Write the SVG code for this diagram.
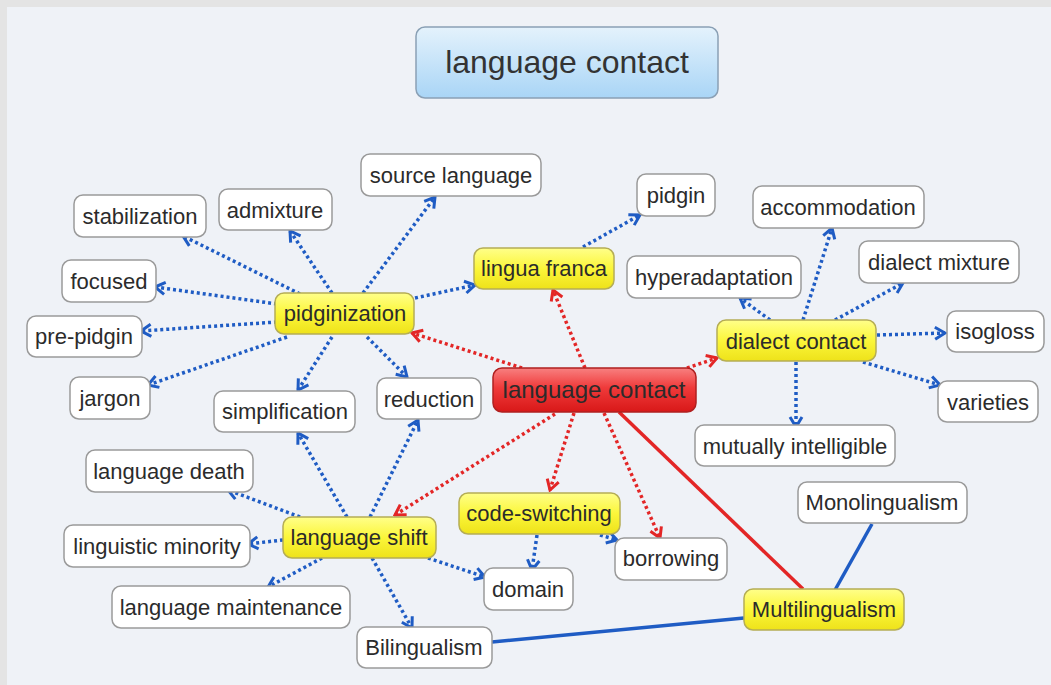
<svg xmlns="http://www.w3.org/2000/svg" width="1051" height="685" viewBox="0 0 1051 685">
<style>
.bg{fill:#e4e4e4}
.canvas{fill:#eff2f7}
.w{fill:#ffffff;stroke:#9a9a9a;stroke-width:1.5}
.y{fill:url(#gy);stroke:#b5ad55;stroke-width:1.5}
.r{fill:url(#gr);stroke:#b02020;stroke-width:1.5}
.t{fill:url(#gb);stroke:#8aa0b5;stroke-width:1.5}
text{font-family:"Liberation Sans",Arial,sans-serif;font-size:22px;fill:#2b2b2b;text-anchor:middle;dominant-baseline:central}
.big{font-size:32px;fill:#333}
.mid{font-size:24px}
.bd{fill:none;stroke:#1f5cc4;stroke-width:3.5;stroke-dasharray:3 3;marker-end:url(#ab)}
.rd{fill:none;stroke:#e32626;stroke-width:3.5;stroke-dasharray:3 3;marker-end:url(#ar)}
.bs{fill:none;stroke:#1f5cc4;stroke-width:3.5}
.rs{fill:none;stroke:#e32626;stroke-width:3.5}
</style>
<defs>
<linearGradient id="gy" x1="0" y1="0" x2="0" y2="1"><stop offset="0" stop-color="#ffff8a"/><stop offset="0.5" stop-color="#fbf63a"/><stop offset="1" stop-color="#eee21a"/></linearGradient>
<linearGradient id="gr" x1="0" y1="0" x2="0" y2="1"><stop offset="0" stop-color="#f88080"/><stop offset="0.45" stop-color="#ef3a3a"/><stop offset="1" stop-color="#d81818"/></linearGradient>
<linearGradient id="gb" x1="0" y1="0" x2="0" y2="1"><stop offset="0" stop-color="#e4f2fc"/><stop offset="1" stop-color="#a9d5f6"/></linearGradient>
<marker id="ab" viewBox="-12 -8 14 16" markerWidth="14" markerHeight="16" refX="0" refY="0" orient="auto" markerUnits="userSpaceOnUse"><path d="M-10,-6 L0,0 L-10,6" fill="none" stroke="#1f5cc4" stroke-width="3"/></marker>
<marker id="ar" viewBox="-12 -8 14 16" markerWidth="14" markerHeight="16" refX="0" refY="0" orient="auto" markerUnits="userSpaceOnUse"><path d="M-10,-6 L0,0 L-10,6" fill="none" stroke="#e32626" stroke-width="3"/></marker>
</defs>
<rect class="bg" x="0" y="0" width="1051" height="685"/>
<rect class="canvas" x="7" y="7" width="1044" height="678"/>
<g id="connectors">
<line class="bd" x1="300" y1="294" x2="183" y2="236"/>
<line class="bd" x1="332" y1="293" x2="290" y2="231"/>
<line class="bd" x1="363" y1="293" x2="435" y2="197"/>
<line class="bd" x1="277" y1="304" x2="155" y2="287"/>
<line class="bd" x1="277" y1="322" x2="141" y2="331"/>
<line class="bd" x1="287" y1="337" x2="148" y2="385"/>
<line class="bd" x1="332" y1="337" x2="298" y2="390"/>
<line class="bd" x1="367" y1="337" x2="407" y2="377"/>
<line class="bd" x1="415" y1="298" x2="475" y2="285"/>
<line class="bd" x1="583" y1="247" x2="640" y2="215"/>
<line class="bd" x1="770" y1="320" x2="740" y2="298"/>
<line class="bd" x1="803" y1="320" x2="832" y2="228"/>
<line class="bd" x1="835" y1="320" x2="903" y2="283"/>
<line class="bd" x1="877" y1="335" x2="945" y2="333"/>
<line class="bd" x1="863" y1="362" x2="940" y2="385"/>
<line class="bd" x1="796" y1="362" x2="796" y2="427"/>
<line class="bd" x1="300" y1="517" x2="228" y2="490"/>
<line class="bd" x1="283" y1="540" x2="248" y2="544"/>
<line class="bd" x1="322" y1="558" x2="268" y2="587"/>
<line class="bd" x1="347" y1="517" x2="298" y2="433"/>
<line class="bd" x1="370" y1="517" x2="418" y2="420"/>
<line class="bd" x1="372" y1="558" x2="412" y2="628"/>
<line class="bd" x1="428" y1="558" x2="485" y2="577"/>
<line class="bd" x1="537" y1="535" x2="532" y2="570"/>
<line class="bd" x1="600" y1="535" x2="617" y2="540"/>
<line class="rd" x1="522" y1="368" x2="412" y2="333"/>
<line class="rd" x1="585" y1="368" x2="553" y2="290"/>
<line class="rd" x1="687" y1="368" x2="717" y2="358"/>
<line class="rd" x1="555" y1="414" x2="395" y2="515"/>
<line class="rd" x1="574" y1="413" x2="550" y2="490"/>
<line class="rd" x1="604" y1="413" x2="660" y2="538"/>
<line class="rs" x1="619" y1="412" x2="803" y2="589"/>
<line class="bs" x1="744" y1="618" x2="492" y2="642"/>
<line class="bs" x1="835" y1="590" x2="872" y2="524"/>
</g>
<g id="title"><rect class="t" x="416" y="27" width="302" height="71" rx="9"/><text class="big" x="567" y="62">language contact</text></g>
<g id="source-language"><rect class="w" x="361" y="154" width="180" height="42" rx="9"/><text x="451" y="175">source language</text></g>
<g id="stabilization"><rect class="w" x="74" y="195" width="132" height="42" rx="9"/><text x="140" y="216">stabilization</text></g>
<g id="admixture"><rect class="w" x="219" y="189" width="113" height="41" rx="9"/><text x="275" y="210">admixture</text></g>
<g id="pidgin"><rect class="w" x="637" y="174" width="78" height="42" rx="9"/><text x="676" y="195">pidgin</text></g>
<g id="accommodation"><rect class="w" x="753" y="186" width="171" height="42" rx="9"/><text x="838" y="207">accommodation</text></g>
<g id="focused"><rect class="w" x="62" y="260" width="94" height="42" rx="9"/><text x="109" y="281">focused</text></g>
<g id="pre-pidgin"><rect class="w" x="27" y="316" width="115" height="41" rx="9"/><text x="84" y="336">pre-pidgin</text></g>
<g id="jargon"><rect class="w" x="70" y="377" width="80" height="42" rx="9"/><text x="110" y="398">jargon</text></g>
<g id="simplification"><rect class="w" x="214" y="391" width="141" height="41" rx="9"/><text x="285" y="411">simplification</text></g>
<g id="reduction"><rect class="w" x="377" y="378" width="104" height="41" rx="9"/><text x="429" y="399">reduction</text></g>
<g id="hyperadaptation"><rect class="w" x="627" y="256" width="174" height="42" rx="9"/><text x="714" y="277">hyperadaptation</text></g>
<g id="dialect-mixture"><rect class="w" x="859" y="241" width="160" height="42" rx="9"/><text x="939" y="262">dialect mixture</text></g>
<g id="isogloss"><rect class="w" x="947" y="311" width="97" height="41" rx="9"/><text x="995" y="331">isogloss</text></g>
<g id="varieties"><rect class="w" x="938" y="381" width="100" height="41" rx="9"/><text x="988" y="402">varieties</text></g>
<g id="mutually-intelligible"><rect class="w" x="695" y="425" width="200" height="41" rx="9"/><text x="795" y="446">mutually intelligible</text></g>
<g id="language-death"><rect class="w" x="86" y="450" width="167" height="42" rx="9"/><text x="169" y="471">language death</text></g>
<g id="linguistic-minority"><rect class="w" x="64" y="525" width="186" height="42" rx="9"/><text x="157" y="546">linguistic minority</text></g>
<g id="language-maintenance"><rect class="w" x="112" y="586" width="238" height="42" rx="9"/><text x="231" y="607">language maintenance</text></g>
<g id="bilingualism"><rect class="w" x="357" y="627" width="135" height="41" rx="9"/><text x="424" y="647">Bilingualism</text></g>
<g id="domain"><rect class="w" x="484" y="568" width="89" height="42" rx="9"/><text x="528" y="589">domain</text></g>
<g id="borrowing"><rect class="w" x="615" y="538" width="112" height="42" rx="9"/><text x="671" y="558">borrowing</text></g>
<g id="monolingualism"><rect class="w" x="798" y="482" width="169" height="41" rx="9"/><text x="882" y="502">Monolingualism</text></g>
<g id="lingua-franca"><rect class="y" x="474" y="248" width="140" height="41" rx="9"/><text x="544" y="268">lingua franca</text></g>
<g id="pidginization"><rect class="y" x="275" y="293" width="139" height="41" rx="9"/><text x="345" y="313">pidginization</text></g>
<g id="dialect-contact"><rect class="y" x="717" y="320" width="159" height="41" rx="9"/><text x="796" y="341">dialect contact</text></g>
<g id="language-shift"><rect class="y" x="283" y="517" width="153" height="41" rx="9"/><text x="359" y="537">language shift</text></g>
<g id="code-switching"><rect class="y" x="459" y="493" width="161" height="41" rx="9"/><text x="539" y="513">code-switching</text></g>
<g id="multilingualism"><rect class="y" x="744" y="589" width="160" height="41" rx="9"/><text x="824" y="609">Multilingualism</text></g>
<g id="language-contact"><rect class="r" x="493" y="368" width="203" height="44" rx="9"/><text class="mid" x="594" y="389">language contact</text></g>
</svg>
